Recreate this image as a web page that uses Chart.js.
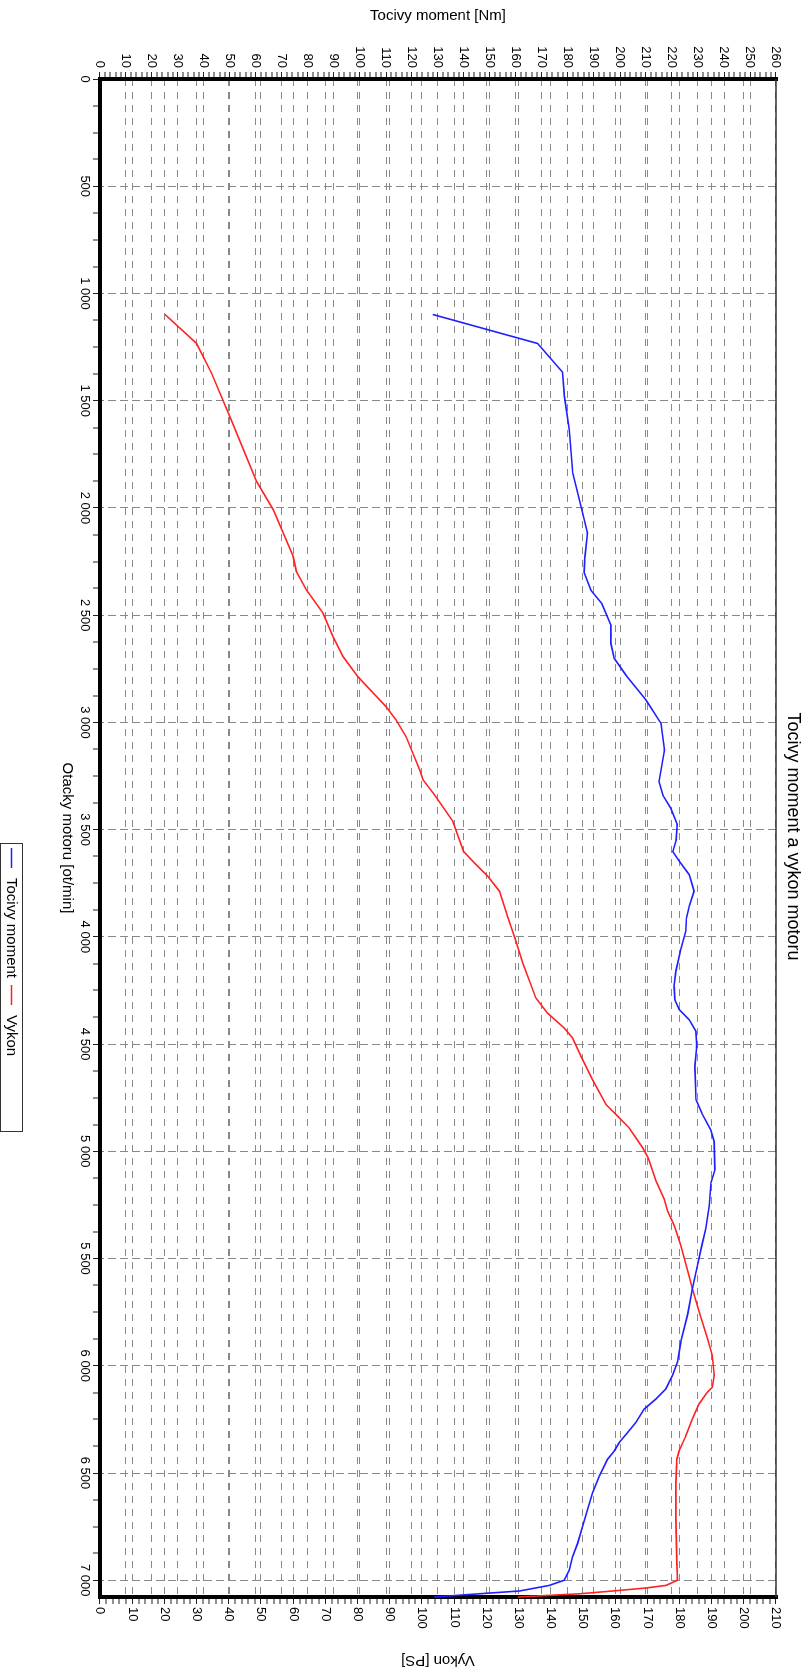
<!DOCTYPE html>
<html><head><meta charset="utf-8">
<script src="https://cdn.jsdelivr.net/npm/chart.js@4.4.1/dist/chart.umd.min.js"></script>
<style>
html,body{margin:0;padding:0;background:#fff;}
#page{position:relative;width:808px;height:1673px;overflow:hidden;background:#fff;}
#rot{position:absolute;left:0;top:0;width:1673px;height:808px;transform-origin:0 0;transform:translate(808px,0) rotate(90deg);}
canvas{display:block;}
</style></head><body>
<div id="page"><div id="rot"><canvas id="c" width="1673" height="808"></canvas></div></div>
<script>
// ---- data ----
const chartTitle = 'Tocivy moment a vykon motoru';
const rpmTitle = 'Otacky motoru [ot/min]';
const torqueTitle = 'Tocivy moment [Nm]';
const powerTitle = 'Vykon [PS]';
const seriesNames = ['Tocivy moment', 'Vykon'];

const torqueRpm = [1098,1233,1367,1479,1635,1837,1993,2117,2230,2300,2384,2446,2547,2632,2702,2780,2896,3005,3129,3276,3340,3400,3475,3548,3603,3648,3710,3787,3857,3912,3974,4059,4160,4230,4293,4339,4386,4440,4510,4603,4759,4823,4900,4954,5085,5146,5254,5361,5438,5531,5638,5761,5888,5982,6045,6108,6155,6202,6264,6311,6358,6397,6436,6515,6593,6671,6750,6828,6891,6953,7000,7024,7050,7063,7078];
const torqueNm = [128,168.3,177.9,178.6,180.5,181.8,185,187.5,186.5,186.2,188.8,193,196.5,196.5,197.8,202.3,210,215.8,217.1,215,216.5,219.5,222,221.6,220.3,222.8,226.6,228.5,226.6,225.6,225.3,223.4,221.5,220.8,221.1,222.8,226.6,229.2,229.5,228.8,229.2,231.5,234.9,236.2,236.5,235,234.3,233,231.5,229.8,227.9,226,223.4,222.1,220.2,217.6,213.8,209.3,206.1,202.9,199.7,197.8,195.2,192,189.4,187.5,185.6,183.7,181.7,180.5,178.5,172.8,161.3,145.9,128.6];

const powerRpm = [1098,1233,1370,1573,1876,2008,2226,2296,2382,2491,2600,2693,2787,2927,2989,3067,3222,3267,3337,3461,3601,3655,3718,3787,3904,4021,4122,4285,4355,4425,4471,4557,4666,4782,4836,4891,4984,5031,5138,5223,5277,5346,5438,5554,5638,5746,5873,5951,6045,6100,6123,6178,6249,6327,6397,6436,6546,6718,6922,7000,7024,7036,7050,7063,7078];
const powerPS = [20.2,30,34.6,40.3,48.6,53.8,60,61,64.1,69.3,72.4,75.5,80.1,88.9,92,95.1,99.3,100.3,103.9,109.6,112.9,116.3,120.5,124.1,126.6,129.2,131.3,135.4,139,144.2,146.8,149.4,153,157.2,160.8,164.4,168.6,170.3,172.7,175.3,176.3,178.4,180.4,182.5,184,186.1,188.7,190.2,190.8,190.2,188.7,186.1,184,182,179.9,179.2,178.9,178.9,179.2,179.4,175.8,169.6,159.3,149,129.8];

// axis ticks
const rpmMin = 0, rpmMinorStep = 125, rpmMajorStep = 500;
const torqueMin = 0, torqueMax = 260, torqueMinorStep = 2, torqueMajorStep = 10;
const powerMin = 0, powerMax = 210, powerMinorStep = 2, powerMajorStep = 10;

// ---- chart ----
const FONT = "'Liberation Sans', Arial, Helvetica, sans-serif";
Chart.defaults.font.family = FONT;
Chart.defaults.color = '#000';
const GRID = '#888888';
const isMul = (v, m) => Math.abs(v / m - Math.round(v / m)) < 1e-6;
const fmtRpm = v => String(Math.round(v)).replace(/\B(?=(\d{3})+(?!\d))/g, ' ');
const rpmMax = Math.max(...torqueRpm, ...powerRpm);

function valueAxis(min, max, minor, major, position, title, titlePad, labelPad, width) {
  return {
    type: 'linear', position, min, max,
    ticks: {
      stepSize: minor, autoSkip: false, padding: labelPad, includeBounds: false,
      font: {size: 13}, color: '#000',
      callback: v => isMul(v, major) ? String(v) : ''
    },
    grid: {
      drawOnChartArea: true, drawTicks: true, tickLength: 7,
      color: c => (c.tick && isMul(c.tick.value, major)) ? GRID : 'rgba(0,0,0,0)',
      lineWidth: c => (c.tick && isMul(c.tick.value, major)) ? 1 : 0,
      tickColor: '#222', tickWidth: 1
    },
    border: {display: false, dash: [7, 6]},
    title: {display: true, text: title, font: {size: 15}, color: '#000', padding: titlePad},
    afterFit: s => { s.width = width; }
  };
}

const framePlugin = {
  id: 'frame',
  beforeDatasetsDraw(chart) {
    const {ctx, chartArea: a} = chart;
    ctx.save();
    ctx.strokeStyle = '#000';
    ctx.lineWidth = 4;
    ctx.beginPath();
    ctx.moveTo(a.left, a.top - 2);
    ctx.lineTo(a.left, a.bottom);
    ctx.lineTo(a.right, a.bottom);
    ctx.lineTo(a.right, a.top - 2);
    ctx.stroke();
    ctx.strokeStyle = '#333';
    ctx.lineWidth = 1.5;
    ctx.beginPath();
    ctx.moveTo(a.left, a.top);
    ctx.lineTo(a.right, a.top);
    ctx.stroke();
    ctx.restore();
  }
};

const legendPlugin = {
  id: 'boxLegend',
  afterDraw(chart) {
    const {ctx} = chart;
    const x0 = 843, y0 = 785, w = 288, h = 22;
    ctx.save();
    ctx.strokeStyle = '#333';
    ctx.lineWidth = 1;
    ctx.strokeRect(x0 + 0.5, y0 + 0.5, w, h);
    ctx.font = '15px ' + FONT;
    ctx.textBaseline = 'middle';
    ctx.textAlign = 'left';
    let x = x0 + 5;
    const yc = y0 + h / 2 + 0.5;
    chart.data.datasets.forEach(ds => {
      ctx.strokeStyle = ds.borderColor;
      ctx.lineWidth = 1.5;
      ctx.beginPath();
      ctx.moveTo(x, yc); ctx.lineTo(x + 20, yc);
      ctx.stroke();
      x += 30;
      ctx.fillStyle = '#000';
      ctx.fillText(ds.label, x, yc);
      x += ctx.measureText(ds.label).width + 7;
    });
    ctx.restore();
  }
};

new Chart(document.getElementById('c'), {
  type: 'line',
  data: {
    datasets: [
      {label: seriesNames[0], data: torqueRpm.map((r, i) => ({x: r, y: torqueNm[i]})), yAxisID: 'yT',
       borderColor: '#1f1fff', borderWidth: 1.6, pointRadius: 0, tension: 0, fill: false, clip: 3},
      {label: seriesNames[1], data: powerRpm.map((r, i) => ({x: r, y: powerPS[i]})), yAxisID: 'yP',
       borderColor: '#ff2222', borderWidth: 1.6, pointRadius: 0, tension: 0, fill: false, clip: 3}
    ]
  },
  options: {
    responsive: false, animation: false, devicePixelRatio: 1,
    layout: {padding: {left: 0, right: 0, top: 0, bottom: 54}},
    plugins: {
      legend: {display: false}, tooltip: {enabled: false},
      title: {display: true, text: chartTitle, font: {size: 18, weight: 'normal'}, color: '#000', padding: {top: 4, bottom: 6.4}}
    },
    scales: {
      x: {
        type: 'linear', position: 'bottom', min: rpmMin, max: rpmMax,
        ticks: {
          stepSize: rpmMinorStep, autoSkip: false, maxRotation: 0, minRotation: 0, padding: 1, includeBounds: false,
          font: {size: 13}, color: '#000',
          callback: v => isMul(v, rpmMajorStep) ? fmtRpm(v) : ''
        },
        grid: {
          drawOnChartArea: true, drawTicks: true, tickLength: 7,
          color: c => (c.tick && isMul(c.tick.value, rpmMajorStep)) ? GRID : 'rgba(0,0,0,0)',
          lineWidth: c => (c.tick && isMul(c.tick.value, rpmMajorStep)) ? 1 : 0,
          tickColor: '#222', tickWidth: 1
        },
        border: {display: false, dash: [8, 4]},
        title: {display: true, text: rpmTitle, font: {size: 15}, color: '#000', padding: {top: 0, bottom: 4}},
        afterFit: s => { s.height = 46; }
      },
      yT: valueAxis(torqueMin, torqueMax, torqueMinorStep, torqueMajorStep, 'left', torqueTitle, {top: 7, bottom: 0}, 4, 79),
      yP: valueAxis(powerMin, powerMax, powerMinorStep, powerMajorStep, 'right', powerTitle, {top: 4, bottom: 0}, 3, 76)
    }
  },
  plugins: [framePlugin, legendPlugin]
});
</script>
</body></html>
